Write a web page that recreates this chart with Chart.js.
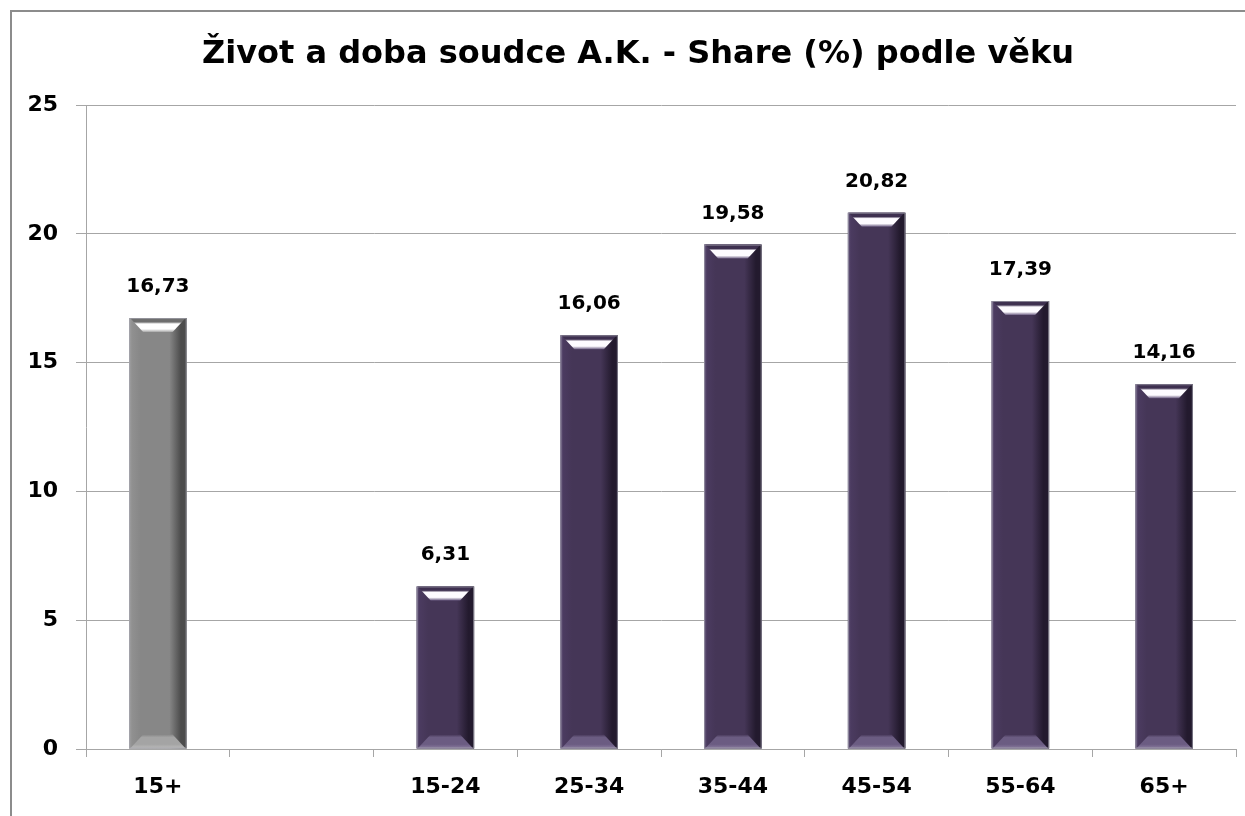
<!DOCTYPE html>
<html>
<head>
<meta charset="utf-8">
<script src="https://cdn.jsdelivr.net/npm/chart.js@4"></script>
<style>
  html, body { margin:0; padding:0; background:#fff; }
  canvas { display:block; }
</style>
</head>
<body>
<canvas id="chart" width="1245" height="816"></canvas>
<script>
// ── DATA ─────────────────────────────
const TITLE      = 'Život a doba soudce A.K. - Share (%) podle věku';
const categories = ['15+', '', '15-24', '25-34', '35-44', '45-54', '55-64', '65+'];
const shares     = [16.73, null, 6.31, 16.06, 19.58, 20.82, 17.39, 14.16];
const yTicks     = [0, 5, 10, 15, 20, 25];

const FONT = "'DejaVu Sans', Verdana, sans-serif";
const GRID = '#a6a6a6';

// colours: first bar (total) is grey, age groups purple
const tone = i => i === 0
  ? {edge:'#a0a0a0', light:'#909090', mid:'#878787', dark:'#4c4c4c', hi:'#ffffff', top:'#6e6e6e', low:'#a4a4a4', base:'#bcbcbc'}
  : {edge:'#6a5b80', light:'#4b3b60', mid:'#453657', dark:'#231a2e', hi:'#fdfbff', top:'#3e3050', low:'#6b5c82', base:'#8a7ca0'};

const fmtComma = v => v.toFixed(2).replace('.', ',');

// ── PLUGINS ─────────────────────────
const frame = {
  id:'frame',
  beforeDraw(chart) {
    const c = chart.ctx;
    c.save();
    c.strokeStyle = '#8c8c8c';
    c.lineWidth = 2;
    c.beginPath();
    c.moveTo(11, chart.height); c.lineTo(11, 11); c.lineTo(chart.width, 11);
    c.stroke();
    c.restore();
  }
};

const chartTitle = {
  id:'chartTitle',
  afterDraw(chart) {
    const c = chart.ctx;
    c.save();
    c.font = `bold 32px ${FONT}`;
    c.fillStyle = '#000';
    c.textAlign = 'center';
    c.textBaseline = 'alphabetic';
    c.fillText(TITLE, 638, 63);
    c.restore();
  }
};

// shading + bevel on top of each bar element
const bevel = {
  id:'bevel',
  afterDatasetsDraw(chart) {
    const c = chart.ctx;
    chart.getDatasetMeta(0).data.forEach((bar, i) => {
      if (shares[i] == null) return;
      const t = tone(i);
      const l = bar.x - bar.width / 2, r = bar.x + bar.width / 2;
      const top = bar.y, base = bar.base, b = 14;
      c.save();
      // side shading
      let g = c.createLinearGradient(l, 0, r, 0);
      g.addColorStop(0, t.edge);
      g.addColorStop(0.05, t.light);
      g.addColorStop(0.2, t.mid);
      g.addColorStop(0.7, t.mid);
      g.addColorStop(0.9, t.dark);
      g.addColorStop(1, t.dark);
      c.fillStyle = g;
      c.fillRect(l, top, bar.width, base - top);
      // top bevel
      g = c.createLinearGradient(0, top, 0, top + b);
      g.addColorStop(0, t.top);
      g.addColorStop(0.28, t.top);
      g.addColorStop(0.42, t.hi);
      g.addColorStop(0.78, t.hi);
      g.addColorStop(1, t.low);
      c.fillStyle = g;
      c.beginPath();
      c.moveTo(l + 1, top); c.lineTo(r - 1, top);
      c.lineTo(r - b, top + b); c.lineTo(l + b, top + b);
      c.closePath(); c.fill();
      // bottom bevel
      g = c.createLinearGradient(0, base - b, 0, base);
      g.addColorStop(0, t.mid);
      g.addColorStop(0.2, t.low);
      g.addColorStop(0.7, t.low);
      g.addColorStop(1, t.base);
      c.fillStyle = g;
      c.beginPath();
      c.moveTo(l + 1, base); c.lineTo(r - 1, base);
      c.lineTo(r - b, base - b); c.lineTo(l + b, base - b);
      c.closePath(); c.fill();
      // thin light outline
      c.strokeStyle = 'rgba(165,165,175,0.7)';
      c.lineWidth = 1;
      c.strokeRect(l + 0.5, top + 0.5, bar.width - 1, base - top - 1);
      c.restore();
    });
  }
};

const valueLabels = {
  id:'valueLabels',
  afterDatasetsDraw(chart) {
    const c = chart.ctx;
    c.save();
    c.font = `bold 20px ${FONT}`;
    c.fillStyle = '#000';
    c.textAlign = 'center';
    c.textBaseline = 'alphabetic';
    chart.getDatasetMeta(0).data.forEach((bar, i) => {
      if (shares[i] == null) return;
      c.fillText(fmtComma(shares[i]), bar.x, bar.y - 26);
    });
    c.restore();
  }
};

// ── CHART ───────────────────────────
new Chart(document.getElementById('chart'), {
  type:'bar',
  data:{
    labels: categories,
    datasets:[{
      data: shares,
      backgroundColor: shares.map((v, i) => tone(i).mid),
      borderWidth: 0,
      categoryPercentage: 1,
      barPercentage: 0.4
    }]
  },
  options:{
    responsive:false,
    animation:false,
    devicePixelRatio:1,
    layout:{padding:{left:0, right:9, top:105, bottom:0}},
    plugins:{
      legend:{display:false},
      tooltip:{enabled:false},
      title:{display:false}
    },
    scales:{
      x:{
        grid:{display:true, drawOnChartArea:false, drawTicks:true, tickLength:8, color:GRID, offset:true},
        border:{color:GRID, width:1},
        ticks:{color:'#000', font:{family:FONT, size:22, weight:'bold'}, padding:17, maxRotation:0, autoSkip:false},
        afterFit: s => { s.height = 67; }
      },
      y:{
        min:0, max:25,
        afterBuildTicks: s => { s.ticks = yTicks.map(v => ({value:v})); },
        grid:{color:GRID, tickLength:10, lineWidth:1},
        border:{color:GRID, width:1},
        ticks:{color:'#000', font:{family:FONT, size:22, weight:'bold'}, padding:18},
        afterFit: s => { s.width = 86; }
      }
    }
  },
  plugins:[frame, bevel, valueLabels, chartTitle]
});
</script>
</body>
</html>
